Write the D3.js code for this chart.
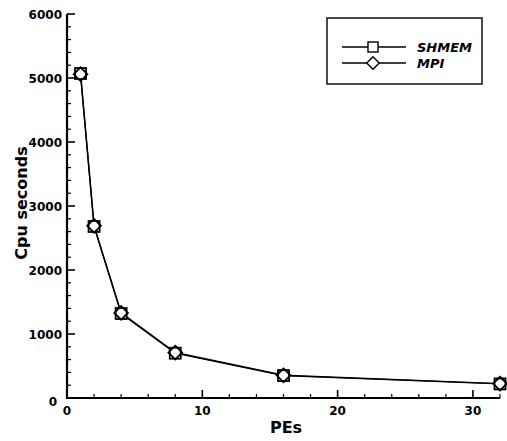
<!DOCTYPE html>
<html>
<head>
<meta charset="utf-8">
<title>Cpu seconds vs PEs</title>
<script src="https://cdn.jsdelivr.net/npm/d3@7"></script>
<style>
  body { margin: 0; background: #fff; }
  text { font-family: "DejaVu Sans", Arial, sans-serif; font-weight: bold; }
</style>
</head>
<body>
<script>
// data
var pes = [1, 2, 4, 8, 16, 32];
var shmem = [5070, 2680, 1320, 700, 350, 220];
var mpi = [5060, 2690, 1330, 710, 355, 225];
var seriesNames = ["SHMEM", "MPI"];
var xTicks = [0, 10, 20, 30];
var yTicks = [0, 1000, 2000, 3000, 4000, 5000, 6000];

var w = 507, h = 441;
var svg = d3.select("body").append("svg").attr("width", w).attr("height", h);

var x = d3.scaleLinear().domain([0, 32]).range([67, 500]);
var y = d3.scaleLinear().domain([0, 6000]).range([398, 14]);

var ink = "#000";

// minor ticks (inward)
svg.append("g").selectAll("line")
   .data(d3.range(0, 6001, 200).filter(function(v) { return v % 1000 !== 0; }))
   .enter().append("line")
   .attr("x1", x(0)).attr("x2", x(0) + 4)
   .attr("y1", function(d) { return y(d); }).attr("y2", function(d) { return y(d); })
   .attr("stroke", ink).attr("stroke-width", 1.2);
svg.append("g").selectAll("line")
   .data(d3.range(2, 33, 2).filter(function(v) { return v % 10 !== 0; }))
   .enter().append("line")
   .attr("x1", function(d) { return x(d); }).attr("x2", function(d) { return x(d); })
   .attr("y1", y(0)).attr("y2", y(0) - 4)
   .attr("stroke", ink).attr("stroke-width", 1.2);

// major ticks
svg.append("g").selectAll("line").data(yTicks).enter().append("line")
   .attr("x1", x(0)).attr("x2", x(0) + 8)
   .attr("y1", function(d) { return y(d); }).attr("y2", function(d) { return y(d); })
   .attr("stroke", ink).attr("stroke-width", 1.6);
svg.append("g").selectAll("line").data(xTicks).enter().append("line")
   .attr("x1", function(d) { return x(d); }).attr("x2", function(d) { return x(d); })
   .attr("y1", y(0)).attr("y2", y(0) - 8)
   .attr("stroke", ink).attr("stroke-width", 1.6);

// axis lines
svg.append("line").attr("x1", x(0)).attr("x2", x(0)).attr("y1", y(0) + 1).attr("y2", y(6000))
   .attr("stroke", ink).attr("stroke-width", 2.2);
svg.append("line").attr("x1", x(0) - 1).attr("x2", x(32)).attr("y1", y(0)).attr("y2", y(0))
   .attr("stroke", ink).attr("stroke-width", 2.2);

// tick labels
svg.append("g").selectAll("text").data(yTicks).enter().append("text")
   .attr("x", function(d) { return d === 0 ? 57 : 62; })
   .attr("y", function(d) { return d === 0 ? y(d) + 8 : y(d) + 4.5; })
   .attr("text-anchor", "end").attr("font-size", 12)
   .text(function(d) { return d; });
svg.append("g").selectAll("text").data(xTicks).enter().append("text")
   .attr("x", function(d) { return x(d); })
   .attr("y", 415).attr("text-anchor", "middle").attr("font-size", 12)
   .text(function(d) { return d; });

// axis titles
svg.append("text").attr("x", 286).attr("y", 433).attr("text-anchor", "middle")
   .attr("font-size", 16).text("PEs");
svg.append("text").attr("transform", "translate(27," + 203 + ") rotate(-90)")
   .attr("text-anchor", "middle").attr("font-size", 16).text("Cpu seconds");

// series
var line = d3.line()
   .x(function(d) { return x(d[0]); }).y(function(d) { return y(d[1]); });

function squareAt(g, cx, cy) {
  g.append("rect").attr("x", cx - 5.5).attr("y", cy - 5.5).attr("width", 11).attr("height", 11)
   .attr("fill", "#fff").attr("stroke", ink).attr("stroke-width", 1.8);
}
function diamondAt(g, cx, cy) {
  g.append("path").attr("d", d3.symbol().type(d3.symbolDiamond2).size(120)())
   .attr("transform", "translate(" + cx + "," + cy + ")")
   .attr("fill", "none").attr("stroke", ink).attr("stroke-width", 1.8);
}

var sData = pes.map(function(p, i) { return [p, shmem[i]]; });
var mData = pes.map(function(p, i) { return [p, mpi[i]]; });

svg.append("path").datum(sData).attr("d", line).attr("fill", "none")
   .attr("stroke", ink).attr("stroke-width", 1.4);
svg.append("path").datum(mData).attr("d", line).attr("fill", "none")
   .attr("stroke", ink).attr("stroke-width", 1.4);

var marks = svg.append("g");
sData.forEach(function(d) { squareAt(marks, x(d[0]), y(d[1])); });
mData.forEach(function(d) { diamondAt(marks, x(d[0]), y(d[1])); });

// legend
var lg = svg.append("g");
lg.append("rect").attr("x", 327).attr("y", 18).attr("width", 155).attr("height", 66)
  .attr("fill", "#fff").attr("stroke", ink).attr("stroke-width", 1.4);
seriesNames.forEach(function(name, i) {
  var ly = 47 + i * 16;
  lg.append("line").attr("x1", 342).attr("x2", 406).attr("y1", ly).attr("y2", ly)
    .attr("stroke", ink).attr("stroke-width", 1.3);
  if (i === 0) {
    lg.append("rect").attr("x", 368).attr("y", ly - 5).attr("width", 10).attr("height", 10)
      .attr("fill", "#fff").attr("stroke", ink).attr("stroke-width", 1.4);
  } else {
    lg.append("path").attr("d", d3.symbol().type(d3.symbolDiamond2).size(100)())
      .attr("transform", "translate(373," + ly + ")")
      .attr("fill", "#fff").attr("stroke", ink).attr("stroke-width", 1.4);
  }
  lg.append("text").attr("x", 417).attr("y", ly + 5)
    .attr("font-family", "'Liberation Serif', 'Times New Roman', serif")
    .attr("font-style", "italic").attr("font-size", 13).text(name);
});
</script>
</body>
</html>
